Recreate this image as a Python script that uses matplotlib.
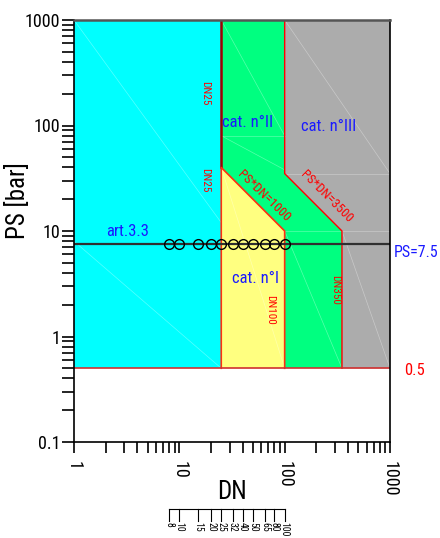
import numpy as np
import matplotlib
matplotlib.use("Agg")
import matplotlib.pyplot as plt
from matplotlib.patches import Polygon
from matplotlib import font_manager

# pick a narrow face if one is there
names = {f.name for f in font_manager.fontManager.ttflist}
narrow = [n for n in ['Liberation Sans Narrow', 'DejaVu Sans Condensed', 'Roboto Condensed', 'Open Sans Condensed']
          if n in names]
plt.rcParams['font.family'] = narrow + ['DejaVu Sans']
plt.rcParams['font.stretch'] = 'condensed'

# region boundaries (DN, PS)
cyan_poly = [(1, 0.5), (25, 0.5), (25, 1000), (1, 1000)]
green_poly = [(25, 0.5), (350, 0.5), (350, 1000), (25, 1000)]
gray_poly = [(100, 1000), (1000, 1000), (1000, 0.5), (350, 0.5), (350, 10), (100, 35)]
yellow_poly = [(25, 40), (100, 10), (100, 0.5), (25, 0.5)]

# pipe sizes checked at PS = 7.5 bar
dn_points = [8, 10, 15, 20, 25, 32, 40, 50, 65, 80, 100]
dn_labels = ["8", "10", "15", "20", "25", "32", "40", "50", "65", "80", "100"]
ps_line = 7.5
ps_min = 0.5

fig = plt.figure(figsize=(4.4, 5.38), dpi=100)
ax = fig.add_axes([74/440, 1-442/538, 316/440, 422/538])
ax.set_xscale('log')
ax.set_yscale('log')
ax.set_xlim(1, 1000)
ax.set_ylim(0.1, 1000)

ax.add_patch(Polygon(cyan_poly, closed=True, fc='#00ffff', ec='none', zorder=1))
ax.add_patch(Polygon(green_poly, closed=True, fc='#00ff80', ec='none', zorder=1))
ax.add_patch(Polygon(gray_poly, closed=True, fc='#acacac', ec='none', zorder=2))
ax.add_patch(Polygon(yellow_poly, closed=True, fc='#ffff80', ec='none', zorder=2))

# faint triangulation lines
faint = [((1, 1000), (25, 12)), ((1, 8), (25, 0.5)),
         ((25, 1000), (100, 80)), ((25, 80), (100, 80)), ((25, 80), (100, 38)),
         ((100, 1000), (1000, 35)), ((100, 35), (1000, 35)),
         ((100, 10), (1000, 10)), ((100, 10), (350, 0.5)), ((350, 10), (1000, 0.5)),
         ((25, 40), (100, 0.5))]
for (x0, y0), (x1, y1) in faint:
    ax.plot([x0, x1], [y0, y1], color='white', lw=0.5, alpha=0.35, zorder=3)

# red boundaries
ax.plot([25, 25], [40, 1000], color='#a00000', lw=1.8, zorder=4)
ax.plot([25, 25, 100, 100], [0.5, 40, 10, 0.5], color='#ff3010', lw=1.2, zorder=4)
ax.plot([100, 100, 350, 350], [1000, 35, 10, 0.5], color='#ff0000', lw=1.0, zorder=4)
ax.plot([1, 1000], [ps_min, ps_min], color='#d03030', lw=1.2, zorder=4)

# PS = 7.5 line with circles
ax.plot([1, 1000], [ps_line, ps_line], color='#303030', lw=1.6, zorder=5)
ax.plot(dn_points, [ps_line]*len(dn_points), 'o', ms=7, mfc='none', mec='black', mew=1.0, zorder=6)

# texts
blue = '#1a1aff'
red = '#ff0000'
ax.text(3.26, 9.8, "art.3.3", color=blue, fontsize=12, ha='center', va='center', zorder=7)
ax.text(44, 106, "cat. n°II", color=blue, fontsize=12, ha='center', va='center', zorder=7)
ax.text(264, 97, "cat. n°III", color=blue, fontsize=12, ha='center', va='center', zorder=7)
ax.text(52.4, 3.58, "cat. n°I", color=blue, fontsize=12, ha='center', va='center', zorder=7)
ax.text(17.5, 203, "DN25", color=red, fontsize=8, rotation=-90, ha='center', va='center', zorder=7)
ax.text(17.5, 30.4, "DN25", color=red, fontsize=8, rotation=-90, ha='center', va='center', zorder=7)
ax.text(72.7, 1.78, "DN100", color=red, fontsize=8, rotation=-90, ha='center', va='center', zorder=7)
ax.text(301, 2.76, "DN350", color=red, fontsize=8, rotation=-90, ha='center', va='center', zorder=7)
ax.text(63.7, 21.5, "PS*DN=1000", color=red, fontsize=9.5, rotation=-44, ha='center', va='center',
        rotation_mode='anchor', zorder=7)
ax.text(247, 21, "PS*DN=3500", color=red, fontsize=9.5, rotation=-45, ha='center', va='center',
        rotation_mode='anchor', zorder=7)

trans_y = ax.get_yaxis_transform()
ax.text(1.013, 6.3, "PS=7.5", color=blue, fontsize=11.5, ha='left', va='center', transform=trans_y, clip_on=False)
ax.text(1.079, 0.48, "0.5", color=red, fontsize=12, ha='center', va='center', transform=trans_y, clip_on=False)

# axes styling
for s in ['left', 'bottom', 'right']:
    ax.spines[s].set_color('black')
    ax.spines[s].set_linewidth(1.2)
ax.spines['top'].set_color('#555555')
ax.spines['top'].set_linewidth(1.8)
for sp in ax.spines.values():
    sp.set_zorder(8)

ax.set_xticks([1, 10, 100, 1000], labels=["1", "10", "100", "1000"])
ax.set_yticks([0.1, 1, 10, 100, 1000], labels=["0.1", "1", "10", "100", "1000"])
ax.tick_params(axis='x', which='both', direction='out', length=8, width=1.2, labelsize=13,
               labelrotation=-90, pad=6)
ax.tick_params(axis='y', which='both', direction='out', length=9, width=1.2, labelsize=13, pad=1)
ax.yaxis.set_minor_locator(matplotlib.ticker.LogLocator(base=10, subs=np.arange(2, 10)))
ax.xaxis.set_minor_locator(matplotlib.ticker.LogLocator(base=10, subs=np.arange(2, 10)))
ax.xaxis.set_minor_formatter(matplotlib.ticker.NullFormatter())
ax.yaxis.set_minor_formatter(matplotlib.ticker.NullFormatter())
for lab in ax.get_xticklabels():
    lab.set_va('top')
    lab.set_ha('center')

ax.text(-0.18, 0.571, "PS [bar]", fontsize=18, rotation=90, ha='center', va='center',
        transform=ax.transAxes, clip_on=False)
ax.text(0.5, -0.118, "DN", fontsize=18, ha='center', va='center', transform=ax.transAxes, clip_on=False)

# DN scale under the chart
trans_x = ax.get_xaxis_transform()
y_base = -(509 - 442) / 422
y_tick = -(521 - 442) / 422
ax.plot([dn_points[0], dn_points[-1]], [y_base, y_base], color='black', lw=0.8,
        transform=trans_x, clip_on=False)
for dn, lab in zip(dn_points, dn_labels):
    ax.plot([dn, dn], [y_base, y_tick], color='black', lw=0.8, transform=trans_x, clip_on=False)
    ax.text(dn, y_tick - 0.003, lab, fontsize=7, rotation=-90, ha='center', va='top',
            transform=trans_x, clip_on=False)

fig.savefig("out.png", dpi=100)
